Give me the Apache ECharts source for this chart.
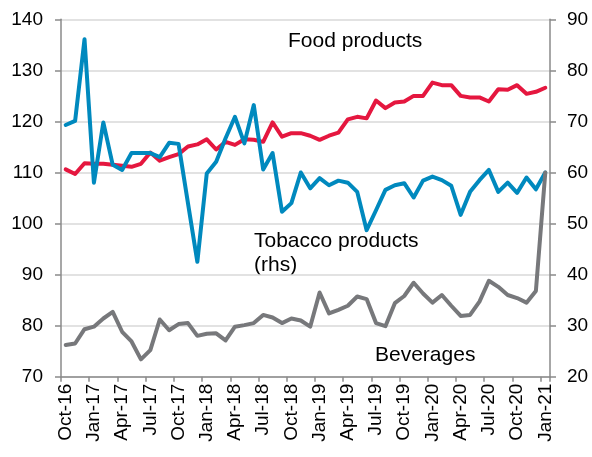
<!DOCTYPE html>
<html>
<head>
<meta charset="utf-8">
<script src="https://cdn.jsdelivr.net/npm/echarts@6/dist/echarts.min.js"></script>
<style>
  html, body { margin: 0; padding: 0; background: #fff; }
  #chart { width: 592px; height: 457px; }
</style>
</head>
<body>
<div id="chart"></div>
<script>
// Monthly categories, Oct-16 .. Jan-21
const months = [
  'Oct-16','Nov-16','Dec-16','Jan-17','Feb-17','Mar-17','Apr-17','May-17','Jun-17','Jul-17','Aug-17','Sep-17',
  'Oct-17','Nov-17','Dec-17','Jan-18','Feb-18','Mar-18','Apr-18','May-18','Jun-18','Jul-18','Aug-18','Sep-18',
  'Oct-18','Nov-18','Dec-18','Jan-19','Feb-19','Mar-19','Apr-19','May-19','Jun-19','Jul-19','Aug-19','Sep-19',
  'Oct-19','Nov-19','Dec-19','Jan-20','Feb-20','Mar-20','Apr-20','May-20','Jun-20','Jul-20','Aug-20','Sep-20',
  'Oct-20','Nov-20','Dec-20','Jan-21'
];

// Food products (left axis)
const food = [
  110.6, 109.7, 111.8, 111.7, 111.7, 111.5, 111.3, 111.1, 111.7, 113.9, 112.3, 113.0,
  113.6, 115.1, 115.5, 116.5, 114.5, 116.0, 115.4, 116.5, 116.4, 116.0, 119.8, 117.0,
  117.7, 117.7, 117.2, 116.4, 117.2, 117.8, 120.4, 120.9, 120.6, 124.1, 122.6, 123.7,
  123.9, 125.0, 125.0, 127.6, 127.1, 127.1, 125.0, 124.7, 124.7, 123.9, 126.3, 126.2,
  127.1, 125.4, 125.8, 126.6
];

// Tobacco products (right axis)
const tobacco = [
  69.3, 70.1, 86.1, 58.0, 69.8, 61.5, 60.5, 63.8, 63.8, 63.8, 63.0, 65.8,
  65.6, 54.0, 42.5, 59.8, 62.1, 66.7, 70.9, 65.7, 73.2, 60.6, 63.8, 52.3,
  54.0, 60.0, 56.9, 58.9, 57.5, 58.4, 58.0, 56.2, 48.7, 52.6, 56.6, 57.5,
  57.9, 55.1, 58.4, 59.2, 58.5, 57.4, 51.7, 56.2, 58.5, 60.5, 56.2, 58.0,
  56.0, 59.0, 56.7, 60.0
];

// Beverages (right axis)
const beverages = [
  26.2, 26.5, 29.3, 29.8, 31.4, 32.7, 28.8, 26.9, 23.4, 25.2, 31.2, 29.1,
  30.3, 30.5, 28.0, 28.4, 28.5, 27.1, 29.8, 30.1, 30.5, 32.1, 31.6, 30.5,
  31.4, 31.0, 29.8, 36.5, 32.4, 33.1, 33.9, 35.7, 35.2, 30.5, 29.9, 34.4,
  35.8, 38.4, 36.3, 34.5, 36.0, 33.9, 31.9, 32.1, 34.7, 38.8, 37.6, 36.0,
  35.4, 34.5, 36.8, 60.0
];

const FONT = '"Liberation Sans", Arial, sans-serif';
const AXIS_GREY = '#8a8a8a';
const GRID_GREY = '#d9d9d9';

const chart = echarts.init(document.getElementById('chart'), null, { renderer: 'canvas' });

const lineSeries = (name, data, color, yAxisIndex) => ({
  name, type: 'line', data, yAxisIndex,
  symbol: 'none', smooth: false,
  lineStyle: { color, width: 4, join: 'round', cap: 'round' },
  emphasis: { disabled: true },
  animation: false
});

// Series annotations placed inside the plot
const annotation = (text, x, y) => ({
  type: 'text', left: x, top: y,
  style: { text, font: '21px ' + FONT, fill: '#000' }
});

chart.setOption({
  backgroundColor: '#fff',
  animation: false,
  grid: { left: 61, right: 42, top: 19.3, bottom: 80.3, containLabel: false, outerBoundsMode: 'none' },
  xAxis: {
    type: 'category',
    data: months,
    boundaryGap: true,
    axisLine: { lineStyle: { color: AXIS_GREY, width: 1.5 } },
    axisTick: { show: true, interval: 2, length: 5, lineStyle: { color: AXIS_GREY, width: 1.5 } },
    axisLabel: { interval: 2, rotate: 90, margin: 7, color: '#000', fontSize: 19, fontFamily: FONT },
    splitLine: { show: false }
  },
  yAxis: [
    {
      type: 'value', min: 70, max: 140, interval: 10, position: 'left',
      axisLine: { show: true, lineStyle: { color: AXIS_GREY, width: 1.5 } },
      axisTick: { show: true, length: 6, lineStyle: { color: AXIS_GREY, width: 1.5 } },
      axisLabel: { margin: 18, color: '#000', fontSize: 19, fontFamily: FONT },
      splitLine: { show: true, lineStyle: { color: GRID_GREY, width: 1.5 } }
    },
    {
      type: 'value', min: 20, max: 90, interval: 10, position: 'right',
      axisLine: { show: true, lineStyle: { color: AXIS_GREY, width: 1.5 } },
      axisTick: { show: true, length: 6, lineStyle: { color: AXIS_GREY, width: 1.5 } },
      axisLabel: { margin: 17, color: '#000', fontSize: 19, fontFamily: FONT },
      splitLine: { show: false }
    }
  ],
  series: [
    lineSeries('Food products', food, '#e5173f', 0),
    lineSeries('Tobacco products (rhs)', tobacco, '#0089be', 1),
    lineSeries('Beverages', beverages, '#77787b', 1)
  ],
  graphic: [
    annotation('Food products', 288, 31),
    annotation('Tobacco products', 254, 231),
    annotation('(rhs)', 254, 255),
    annotation('Beverages', 375, 345)
  ]
});
</script>
</body>
</html>
